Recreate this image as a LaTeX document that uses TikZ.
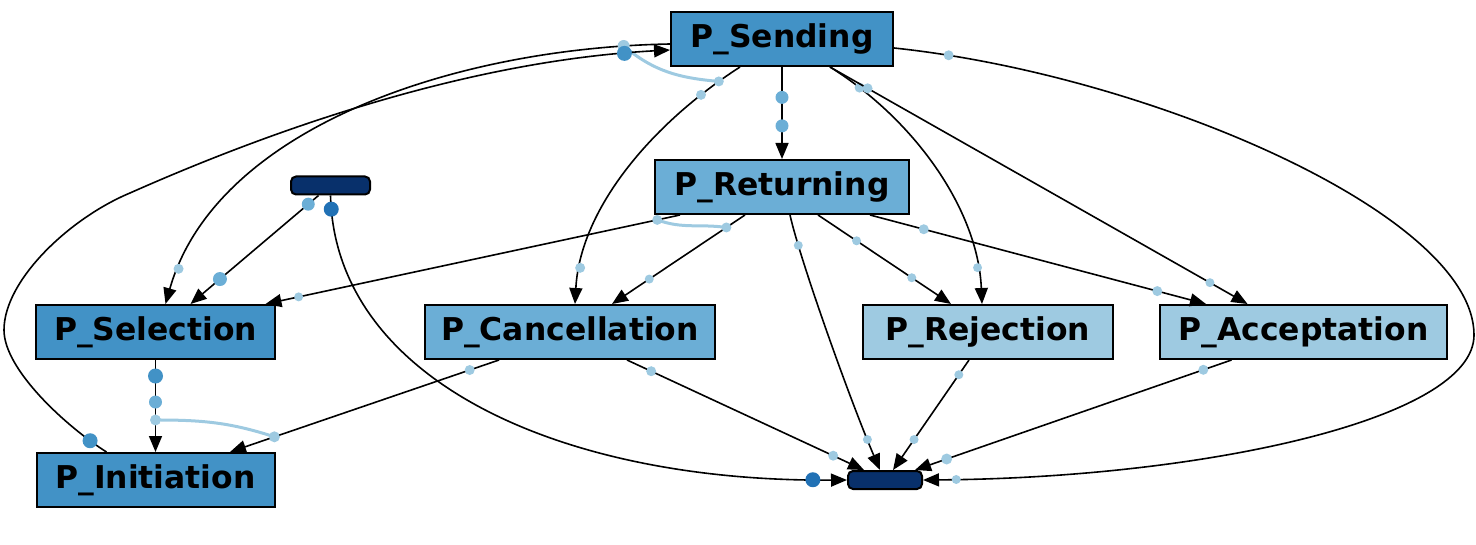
\documentclass[tikz,border=0pt]{standalone}
\usepackage{fontspec}
\setmainfont{DejaVu Sans}
\usetikzlibrary{calc, positioning, backgrounds, arrows.meta}
\definecolor{PMdeep}{RGB}{8, 48, 107}
\definecolor{PMdark}{RGB}{33, 113, 181}
\definecolor{PMblue}{RGB}{66, 146, 198}
\definecolor{PMmid}{RGB}{107, 174, 214}
\definecolor{PMlight}{RGB}{158, 202, 225}

\begin{document}
\begin{tikzpicture}[x=0.5pt, y=-0.5pt,
		task/.style={shape=rectangle, draw=black, line width=1pt, minimum height=27pt, inner sep=0pt, font=\fontsize{15.7}{18}\selectfont\bfseries},
		terminal/.style={shape=rectangle, rounded corners=2.5pt, draw=black, line width=1pt, fill=PMdeep, minimum height=9pt, inner sep=0pt},
		flow/.style={draw=black, line width=0.8pt, -{Triangle[length=8pt, width=6.5pt]}},
		bind/.style={draw=PMlight, line width=1.5pt},
		tok/.style={shape=circle, inner sep=0pt, minimum size=5pt, fill=PMlight},
		tokM/.style={tok, fill=PMmid, minimum size=6.5pt},
		tokL/.style={tok, fill=PMblue, minimum size=7.5pt},
		tokD/.style={tok, fill=PMdark, minimum size=7.5pt}]
		\useasboundingbox (0,0) rectangle (1476,545);

		% Activities
		\node[task, fill=PMblue, minimum width=111pt] (send) at (782,39) {P\_Sending};
		\node[task, fill=PMmid, minimum width=127pt, below=46pt of send] (ret) {P\_Returning};
		\node[task, fill=PMblue, minimum width=119.5pt] (sel) at (155.5,332) {P\_Selection};
		\node[task, fill=PMmid, minimum width=145pt, right=74pt of sel] (canc) {P\_Cancellation};
		\node[task, fill=PMlight, minimum width=125pt, right=73pt of canc] (rej) {P\_Rejection};
		\node[task, fill=PMlight, minimum width=143.5pt, right=22.5pt of rej] (acc) {P\_Acceptation};
		\node[task, fill=PMblue, minimum width=119pt, below=46pt of sel] (init) {P\_Initiation};

		% Start and end
		\node[terminal, minimum width=39.5pt] (start) at (330.5,185.5) {};
		\node[terminal, minimum width=37pt] (stop) at (885,480) {};

		% Sending
		\draw[flow] (send.south) -- node[pos=.33, tokM] {} node[pos=.64, tokM] {} (ret.north);
		\draw[flow] ($(send.west)+(0,5)$) .. controls (450,48) and (215,130) .. ($(sel.north)+(10,0)$)
			node[pos=.07, tok, minimum size=6pt] (s1) {} node[pos=.93, tok] {};
		\draw[flow] ($(send.south)+(-42,0)$) .. controls (650,125) and (580,210) .. ($(canc.north)+(5,0)$)
			node[pos=.08, tok] (s2) {} node[pos=.15, tok] {} node[pos=.87, tok] {};
		\draw[flow] ($(send.south)+(48,0)$) .. controls (915,120) and (978,210) .. ($(rej.north)+(-6,0)$)
			node[pos=.12, tok] {} node[pos=.87, tok, minimum size=4.5pt] {};
		\draw[flow] ($(send.south)+(48,0)$) -- node[pos=.09, tok] {} node[pos=.91, tok, minimum size=4.5pt] {} ($(acc.north)+(-56,0)$);
		\draw[flow] ($(send.east)+(0,9)$) .. controls (1150,75) and (1474,215) .. (1474,335) node[pos=.07, tok] {}
			.. controls (1474,420) and (1200,478) .. (stop.east) node[pos=.96, tok, minimum size=4.5pt] {};

		% Start
		\draw[flow] ($(start.south)+(-12,0)$) -- node[pos=.08, tokM] {} node[pos=.77, tokM, minimum size=7pt] {} ($(sel.north)+(35,0)$);
		\draw[flow] (start.south) .. controls (335,380) and (560,482) .. (stop.west)
			node[pos=.025, tokD] {} node[pos=.96, tokD] {};

		% Returning
		\draw[flow] ($(ret.south)+(-102,0)$) -- node[pos=.055, tok] (r1) {} node[pos=.92, tok, minimum size=4.5pt] {} ($(sel.north)+(110,0)$);
		\draw[flow] ($(ret.south)+(-37,0)$) -- node[pos=.14, tok] (r2) {} node[pos=.72, tok, minimum size=4.5pt] {} ($(canc.north)+(42,0)$);
		\draw[flow] ($(ret.south)+(8,0)$) .. controls (800,260) and (850,400) .. ($(stop.north)+(-5,0)$)
			node[pos=.17, tok, minimum size=4.5pt] {} node[pos=.87, tok, minimum size=4.5pt] {};
		\draw[flow] ($(ret.south)+(36,0)$) -- node[pos=.29, tok, minimum size=4.5pt] {} node[pos=.705, tok, minimum size=4.5pt] {} ($(rej.north)+(-37,0)$);
		\draw[flow] ($(ret.south)+(88,0)$) -- node[pos=.16, tok] {} node[pos=.855, tok] {} ($(acc.north)+(-97.5,0)$);

		% Into Initiation and End
		\draw[flow] (sel.south) -- node[pos=.174, tokL] {} node[pos=.457, tokM] {} node[pos=.652, tok, minimum size=5.5pt] (i2) {} (init.north);
		\draw[flow] ($(canc.south)+(-71,0)$) -- node[pos=.109, tok] {} node[pos=.835, tok, minimum size=5.5pt] (c1) {} ($(init.north)+(74.5,0)$);
		\draw[flow] ($(canc.south)+(57,0)$) -- node[pos=.102, tok] {} node[pos=.87, tok] {} ($(stop.north)+(-21,0)$);
		\draw[flow] ($(rej.south)+(-19,0)$) -- node[pos=.134, tok, minimum size=4.5pt] {} node[pos=.723, tok, minimum size=4.5pt] {} ($(stop.north)+(8,0)$);
		\draw[flow] ($(acc.south)+(-72,0)$) -- node[pos=.089, tok] {} node[pos=.9, tok, minimum size=5.5pt] {} ($(stop.north)+(30,0)$);
		\draw[flow] ($(init.north)+(-49,0)$) .. controls (67,427) and (4,370) .. (4,330) node[pos=.13, tokL] {}
			.. controls (4,280) and (70,218) .. (130,193)
			.. controls (290,122) and (480,60) .. ($(send.west)+(0,11)$) node[pos=.92, tokL] {};

		% Bindings
		\begin{scope}[on background layer]
			\draw[bind] (s1.center) to[out=-40, in=175] (s2.center);
			\draw[bind] (r1.center) to[out=-20, in=172] (r2.center);
			\draw[bind] (i2.center) to[out=0, in=162] (c1.center);
		\end{scope}
	\end{tikzpicture}
\end{document}
